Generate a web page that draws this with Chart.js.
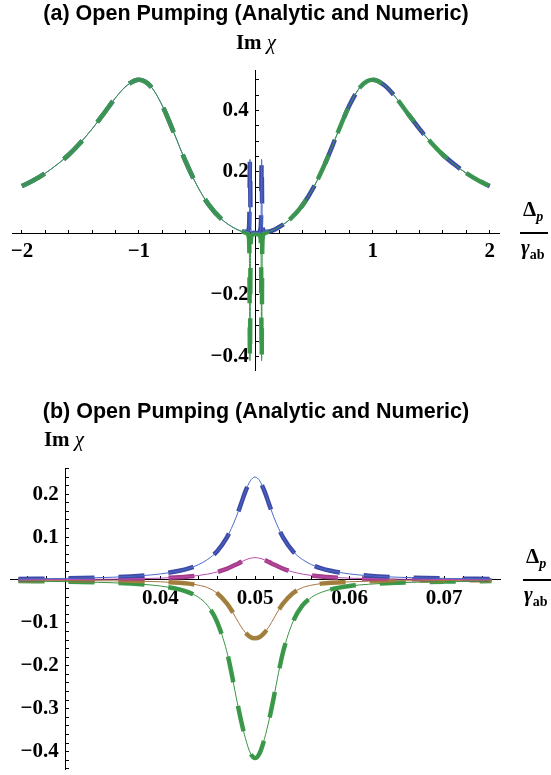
<!DOCTYPE html>
<html>
<head>
<meta charset="utf-8">
<script src="https://cdn.jsdelivr.net/npm/chart.js@4.4.1/dist/chart.umd.min.js"></script>
<style>
body { margin: 0; background: #fff; }
#page { position: relative; width: 551px; height: 775px; overflow: hidden; }
canvas { position: absolute; left: 0; }
.ttl { position: absolute; left: 0; width: 512px; text-align: center; font: bold 21.5px "Liberation Sans", Arial, sans-serif; line-height: 21px; white-space: nowrap; }
.lbl { position: absolute; font: bold 21px "Liberation Serif", "Times New Roman", serif; line-height: 21px; white-space: nowrap; }
.sb { font-size: 14px; position: relative; top: 5px; }
.bar { position: absolute; height: 2px; background: #000; }
</style>
</head>
<body>
<div id="page">
  <canvas id="chartA" width="551" height="385" style="top:0"></canvas>
  <canvas id="chartB" width="551" height="390" style="top:385px"></canvas>

  <div class="ttl" style="top:3px">(a) Open Pumping (Analytic and Numeric)</div>
  <div class="lbl" style="left:216px;top:32px;width:80px;text-align:center">Im <i style="font-weight:normal">χ</i></div>
  <div class="lbl" style="left:523px;top:199px">Δ<i class="sb">p</i></div>
  <div class="bar" style="left:520px;top:232px;width:28px"></div>
  <div class="lbl" style="left:521px;top:237px"><i>γ</i><span class="sb">ab</span></div>

  <div class="ttl" style="top:401px">(b) Open Pumping (Analytic and Numeric)</div>
  <div class="lbl" style="left:24px;top:429px;width:80px;text-align:center">Im <i style="font-weight:normal">χ</i></div>
  <div class="lbl" style="left:526px;top:546px">Δ<i class="sb">p</i></div>
  <div class="bar" style="left:523px;top:579px;width:28px"></div>
  <div class="lbl" style="left:524px;top:584px"><i>γ</i><span class="sb">ab</span></div>
</div>

<script>
// (a) full sweep, Delta_p / gamma_ab
var xA = [-2.0, -1.9, -1.8, -1.7, -1.6, -1.5, -1.4, -1.3, -1.2, -1.1, -1.0, -0.9, -0.8, -0.7, -0.6, -0.5, -0.4, -0.3, -0.2, -0.1,
  -0.07, -0.06, -0.055, -0.05, -0.045, -0.04, -0.03, 0, 0.03, 0.04, 0.045, 0.05, 0.055, 0.06, 0.07,
  0.1, 0.2, 0.3, 0.4, 0.5, 0.6, 0.7, 0.8, 0.9, 1.0, 1.1, 1.2, 1.3, 1.4, 1.5, 1.6, 1.7, 1.8, 1.9, 2.0];

var blueA = [0.154, 0.173, 0.196, 0.224, 0.256, 0.295, 0.340, 0.390, 0.441, 0.482, 0.500, 0.479, 0.416, 0.327, 0.234, 0.154, 0.092, 0.049, 0.021, 0.0056,
  0.0063, 0.016, 0.050, 0.241, 0.049, 0.015, 0.0044, 0.0012, 0.0044, 0.015, 0.049, 0.241, 0.050, 0.016, 0.0063,
  0.0056, 0.021, 0.049, 0.092, 0.154, 0.234, 0.327, 0.416, 0.479, 0.500, 0.482, 0.441, 0.390, 0.340, 0.295, 0.256, 0.224, 0.196, 0.173, 0.154];

var greenA = [0.154, 0.173, 0.196, 0.224, 0.256, 0.295, 0.340, 0.390, 0.441, 0.482, 0.500, 0.479, 0.416, 0.327, 0.234, 0.154, 0.092, 0.049, 0.021, 0.0042,
  -0.0013, -0.0122, -0.0585, -0.414, -0.059, -0.0136, -0.0039, -0.0016, -0.0039, -0.0136, -0.059, -0.414, -0.0585, -0.0122, -0.0013,
  0.0042, 0.021, 0.049, 0.092, 0.154, 0.234, 0.327, 0.416, 0.479, 0.500, 0.482, 0.441, 0.390, 0.340, 0.295, 0.256, 0.224, 0.196, 0.173, 0.154];

// (b) zoom around 0.05
var xB = [0.025, 0.03, 0.035, 0.038, 0.04, 0.042, 0.043, 0.044, 0.045, 0.046, 0.047, 0.0475, 0.048, 0.0485, 0.049, 0.0495, 0.05,
  0.0505, 0.051, 0.0515, 0.052, 0.0525, 0.053, 0.054, 0.055, 0.056, 0.057, 0.058, 0.06, 0.062, 0.065, 0.07, 0.075];

var blueB = [0.0024, 0.0037, 0.0065, 0.010, 0.0141, 0.0214, 0.027, 0.0355, 0.048, 0.067, 0.098, 0.12, 0.146, 0.176, 0.207, 0.231, 0.240,
  0.231, 0.207, 0.176, 0.146, 0.12, 0.098, 0.067, 0.048, 0.0355, 0.027, 0.0214, 0.0141, 0.010, 0.0065, 0.0037, 0.0024];

var magentaB = [0.00074, 0.0011, 0.002, 0.0031, 0.0043, 0.0064, 0.0081, 0.0104, 0.0138, 0.0187, 0.026, 0.0307, 0.036, 0.0416, 0.0468, 0.0506, 0.052,
  0.0506, 0.0468, 0.0416, 0.036, 0.0307, 0.026, 0.0187, 0.0138, 0.0104, 0.0081, 0.0064, 0.0043, 0.0031, 0.002, 0.0011, 0.00074];

var brownB = [-0.0007, -0.0011, -0.002, -0.003, -0.0042, -0.0065, -0.0085, -0.012, -0.018, -0.031, -0.054, -0.070, -0.089, -0.108, -0.123, -0.133, -0.136,
  -0.133, -0.123, -0.108, -0.089, -0.070, -0.054, -0.031, -0.018, -0.012, -0.0085, -0.0065, -0.0042, -0.003, -0.002, -0.0011, -0.0007];

var greenB = [-0.0025, -0.0038, -0.0065, -0.010, -0.014, -0.022, -0.029, -0.040, -0.060, -0.098, -0.165, -0.215, -0.272, -0.325, -0.370, -0.403, -0.415,
  -0.403, -0.370, -0.325, -0.272, -0.215, -0.165, -0.098, -0.060, -0.040, -0.029, -0.022, -0.014, -0.010, -0.0065, -0.0038, -0.0025];

// labelled ticks
var labelsAx = [-2, -1, 1, 2];
var labelsAy = [-0.4, -0.2, 0.2, 0.4];
var labelsBx = [0.04, 0.05, 0.06, 0.07];
var labelsBy = [-0.4, -0.3, -0.2, -0.1, 0.1, 0.2];

var colors = {
  blue: '#3d4aa8', blueThin: '#4d6ac8',
  magenta: '#a63c87', magentaThin: '#b84db0',
  brown: '#a0823c', brownThin: '#a87445',
  green: '#3c9a4c', greenThin: '#3a9443'
};
var dash = [26, 24];
var tickFont = { family: '"Liberation Serif", "Times New Roman", serif', size: 21, weight: 'bold' };

function pts(xs, ys) {
  return xs.map((x, i) => ({ x: x, y: ys[i] }));
}

function thick(xs, ys, c, order) {
  return { data: pts(xs, ys), borderColor: c, borderWidth: 4.5, borderDash: dash, pointRadius: 0, order: order, cubicInterpolationMode: 'monotone' };
}

function thin(xs, ys, c, order) {
  return { data: pts(xs, ys), borderColor: c, borderWidth: 1, pointRadius: 0, order: order, cubicInterpolationMode: 'monotone' };
}

// only the listed values get a label; the y labels get a trailing gap so they clear the axis
function labeler(list, digits, gap) {
  return function (v) {
    let hit = list.find(t => Math.abs(t - v) < 1e-7);
    if (hit === undefined) return '';
    let s = digits ? Math.abs(hit).toFixed(digits) : String(Math.abs(hit));
    return (hit < 0 ? '\u2212' : '') + s + gap;
  };
}

function zeroFit(scale) {
  scale.paddingLeft = 0; scale.paddingRight = 0;
  scale.paddingTop = 0; scale.paddingBottom = 0;
}

function axis(min, max, step, pos, list, digits, gap) {
  return {
    type: 'linear', min: min, max: max, position: pos,
    afterFit: zeroFit,
    ticks: { stepSize: step, includeBounds: false, autoSkip: false, maxRotation: 0, color: '#000', font: tickFont, padding: 10, callback: labeler(list, digits, gap) },
    grid: { drawOnChartArea: false, drawTicks: true, tickLength: -4, color: '#000', lineWidth: 1 },
    border: { color: '#000', width: 1 }
  };
}

var common = {
  responsive: false, animation: false, devicePixelRatio: 1,
  plugins: { legend: { display: false }, tooltip: { enabled: false }, title: { display: false } }
};

new Chart(document.getElementById('chartA'), {
  type: 'line',
  data: {
    datasets: [
      thin(xA, greenA, colors.greenThin, 0),
      thin(xA, blueA, colors.blueThin, 1),
      thick(xA, greenA, colors.green, 2),
      thick(xA, blueA, colors.blue, 3)
    ]
  },
  options: Object.assign({}, common, {
    layout: { padding: { left: 12, right: 52, top: 70.5, bottom: 14.7 } },
    scales: {
      x: axis(-2.085, 2.08, 0.2, { y: 0 }, labelsAx, 0, ''),
      y: axis(-0.445, 0.53, 0.05, { x: 0 }, labelsAy, 1, '\u2004')
    }
  })
});

new Chart(document.getElementById('chartB'), {
  type: 'line',
  data: {
    datasets: [
      thin(xB, blueB, colors.blueThin, 0),
      thin(xB, magentaB, colors.magentaThin, 1),
      thin(xB, brownB, colors.brownThin, 2),
      thin(xB, greenB, colors.greenThin, 3),
      thick(xB, blueB, colors.blue, 4),
      thick(xB, magentaB, colors.magenta, 5),
      thick(xB, brownB, colors.brown, 6),
      thick(xB, greenB, colors.green, 7)
    ]
  },
  options: Object.assign({}, common, {
    layout: { padding: { left: 10, right: 51, top: 83, bottom: 5.8 } },
    scales: {
      x: axis(0.0241, 0.0759, 0.002, { y: 0 }, labelsBx, 2, ''),
      y: axis(-0.441, 0.261, 0.02, { x: 0.03 }, labelsBy, 1, '\u2004')
    }
  })
});
</script>
</body>
</html>
